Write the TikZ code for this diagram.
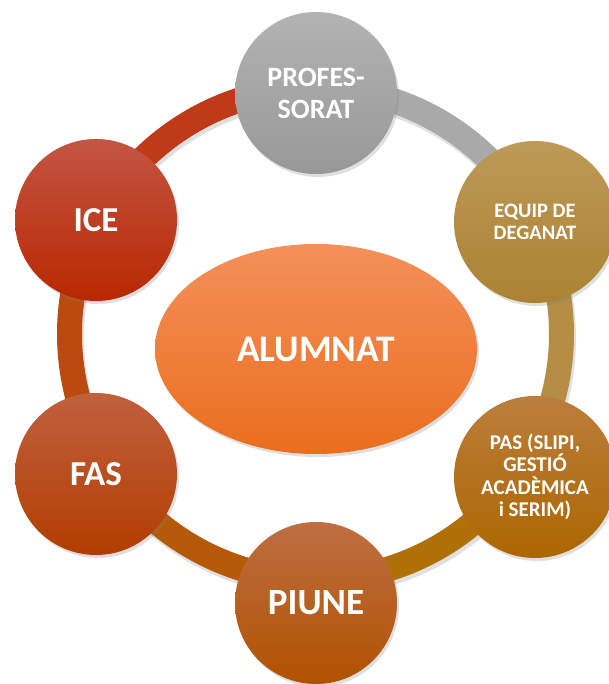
\documentclass[tikz,border=0pt]{standalone}
\usepackage{fontspec}
\setmainfont{Carlito}
\usetikzlibrary{shapes.geometric,shadows,calc}
\definecolor{profT}{HTML}{B3B3B3}\definecolor{profB}{HTML}{989898}\definecolor{profS}{HTML}{A9A9A9}
\definecolor{eqT}{HTML}{BE9A58}\definecolor{eqB}{HTML}{AB8232}\definecolor{eqS}{HTML}{B48E44}
\definecolor{pasT}{HTML}{BB7E3C}\definecolor{pasB}{HTML}{AD6600}\definecolor{pasS}{HTML}{B07008}
\definecolor{piT}{HTML}{BE6E42}\definecolor{piB}{HTML}{B05200}\definecolor{piS}{HTML}{B45A08}
\definecolor{fasT}{HTML}{C0603E}\definecolor{fasB}{HTML}{B23E00}\definecolor{fasS}{HTML}{BA4A10}
\definecolor{iceT}{HTML}{C45544}\definecolor{iceB}{HTML}{B82800}\definecolor{iceS}{HTML}{BE3A18}
\definecolor{alT}{HTML}{F4905A}\definecolor{alB}{HTML}{EA6E1E}
\tikzset{
  nodebox/.style={circle, minimum size=162pt, inner sep=0pt, align=center, text=white,
    font=\bfseries, drop shadow={opacity=0.25, shadow xshift=2pt, shadow yshift=-3pt}},
  ringseg/.style={line width=25pt},
  ringshadow/.style={line width=25pt, black, opacity=0.12}
}
\begin{document}
\begin{tikzpicture}[x=1pt,y=-1pt]
\useasboundingbox (0,0) rectangle (609,684);
\fill[white] (0,0) rectangle (609,684);
\coordinate (rc) at (315.5,334);
\coordinate (rcs) at (317.5,338);
% ring shadows
\foreach \a in {-90,-30,30,90,150,210}{
  \draw[ringshadow] (rcs) ++(\a:246) arc[start angle=\a, end angle=\a+60, radius=246];
}
% ring segments
\draw[ringseg, profS] (rc) ++(-90:246) arc[start angle=-90, end angle=-30, radius=246];
\draw[ringseg, eqS]   (rc) ++(-30:246) arc[start angle=-30, end angle=30, radius=246];
\draw[ringseg, pasS]  (rc) ++(30:246)  arc[start angle=30, end angle=90, radius=246];
\draw[ringseg, piS]   (rc) ++(90:246)  arc[start angle=90, end angle=150, radius=246];
\draw[ringseg, fasS]  (rc) ++(150:246) arc[start angle=150, end angle=210, radius=246];
\draw[ringseg, iceS]  (rc) ++(210:246) arc[start angle=210, end angle=270, radius=246];
% outer nodes
\node[nodebox, top color=profT, bottom color=profB, font=\bfseries\fontsize{28}{32}\selectfont] (prof) at (316,93) {PROFES-\\SORAT};
\node[nodebox, top color=eqT, bottom color=eqB, font=\bfseries\fontsize{20.5}{21.5}\selectfont] (equip) at (535,222) {EQUIP DE\\DEGANAT};
\node[nodebox, top color=pasT, bottom color=pasB, font=\bfseries\fontsize{21}{22.5}\selectfont] (pas) at (535,477) {PAS (SLIPI,\\GESTIÓ\\ACADÈMICA\\i SERIM)};
\node[nodebox, top color=piT, bottom color=piB, font=\bfseries\fontsize{37}{40}\selectfont] (piune) at (316,603) {PIUNE};
\node[nodebox, top color=fasT, bottom color=fasB, font=\bfseries\fontsize{35}{40}\selectfont] (fas) at (96,474) {FAS};
\node[nodebox, top color=iceT, bottom color=iceB, font=\bfseries\fontsize{35}{40}\selectfont] (ice) at (96,220) {ICE};
% center
\node[ellipse, minimum width=322pt, minimum height=210pt, inner sep=0pt, text=white,
  top color=alT, bottom color=alB, font=\bfseries\fontsize{37.5}{40}\selectfont,
  drop shadow={opacity=0.25, shadow xshift=2pt, shadow yshift=-3pt}] (alumnat) at (316,349) {ALUMNAT};
\end{tikzpicture}
\end{document}
